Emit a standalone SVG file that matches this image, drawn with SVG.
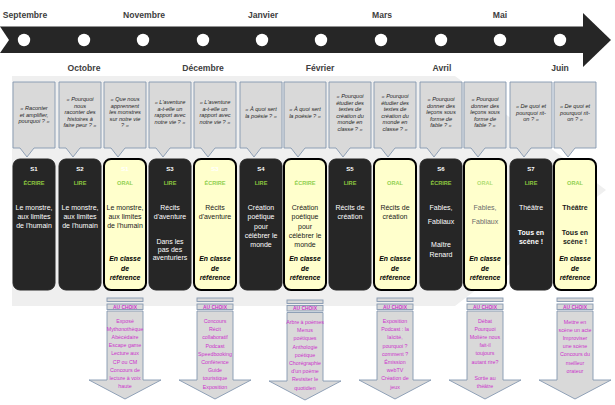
<svg xmlns="http://www.w3.org/2000/svg" width="615" height="405" viewBox="0 0 615 405">
  <style>
    text { font-family: "Liberation Sans", Arial, sans-serif; text-anchor: middle; }
    .month { font-size: 8.6px; font-weight: bold; fill: #404040; }
    .q { font-size: 5.6px; font-style: italic; fill: #262626; }
    .callout { fill: #d9d9d9; stroke: #8497b0; stroke-width: 0.9; }
    .dark { fill: #262626; stroke: #262626; stroke-width: 1; }
    .light { fill: #ffffcc; stroke: #000; stroke-width: 2; }
    .seq { font-size: 6px; font-weight: bold; fill: #fff; }
    .cat { font-size: 5.6px; font-weight: bold; fill: #8cc63f; }
    .catl { font-size: 5.6px; font-weight: bold; fill: #92d050; }
    .w { font-size: 7px; fill: #fff; }
    .k { font-size: 7px; fill: #1a1a1a; }
    .g { font-size: 7px; fill: #6b6b6b; }
    .b { font-weight: bold; }
    .ref { font-size: 6.8px; font-weight: bold; font-style: italic; fill: #000; }
    .arrow { fill: #d9d9d9; stroke: #8497b0; stroke-width: 0.9; }
    .tag { font-size: 4.9px; font-weight: bold; fill: #cc33cc; }
    .opt { font-size: 5.3px; fill: #cc33cc; }
  </style>

  <!-- background panel, shaped as a wide arrow -->
  <polygon points="12,76 455,76 606,190 455,306 12,306" fill="#efefef"/>

  <!-- timeline -->
  <g id="timeline">
    <rect x="0" y="26.5" width="584" height="26.5" fill="#262626"/>
    <polygon points="0,26.5 9,40 0,53" fill="#fff"/>
    <polygon points="583,13 611,40 583,67" fill="#262626"/>
    <g fill="#fff">
      <circle cx="24" cy="40" r="6.2"/><circle cx="84" cy="40" r="6.2"/>
      <circle cx="143" cy="40" r="6.2"/><circle cx="203" cy="40" r="6.2"/>
      <circle cx="262" cy="40" r="6.2"/><circle cx="321" cy="40" r="6.2"/>
      <circle cx="381" cy="40" r="6.2"/><circle cx="441" cy="40" r="6.2"/>
      <circle cx="500" cy="40" r="6.2"/><circle cx="560" cy="40" r="6.2"/>
    </g>
    <text class="month" x="25" y="18">Septembre</text>
    <text class="month" x="144" y="18">Novembre</text>
    <text class="month" x="263" y="18">Janvier</text>
    <text class="month" x="382" y="18">Mars</text>
    <text class="month" x="500" y="18">Mai</text>
    <text class="month" x="84" y="70.5">Octobre</text>
    <text class="month" x="203" y="70.5">Décembre</text>
    <text class="month" x="320" y="70.5">Février</text>
    <text class="month" x="442" y="70.5">Avril</text>
    <text class="month" x="560" y="70.5">Juin</text>
  </g>

  <!-- sequence columns: question callout + session card -->
  <g id="col-01">
    <path class="callout" d="M13 82H55V148H34L27 157L20 148H13Z"/>
    <text class="q"><tspan x="34" y="110">« Raconter</tspan><tspan x="34" dy="6.6">et amplifier,</tspan><tspan x="34" dy="6.6">pourquoi ? »</tspan></text>
    <rect class="dark" x="13" y="159" width="42" height="131" rx="7"/>
    <text class="seq" x="34" y="171">S1</text>
    <text class="cat" x="34" y="185">ÉCRIRE</text>
    <text class="w"><tspan x="34" y="210">Le monstre,</tspan><tspan x="34" dy="9">aux limites</tspan><tspan x="34" dy="9">de l'humain</tspan></text>
  </g>

  <g id="col-02">
    <path class="callout" d="M59 82H101V148H80L73 157L66 148H59Z"/>
    <text class="q"><tspan x="80" y="101">« Pourquoi</tspan><tspan x="80" dy="6.6">nous</tspan><tspan x="80" dy="6.6">raconter des</tspan><tspan x="80" dy="6.6">histoires à</tspan><tspan x="80" dy="6.6">faire peur ? »</tspan></text>
    <rect class="dark" x="59" y="159" width="42" height="131" rx="7"/>
    <text class="seq" x="80" y="171">S2</text>
    <text class="cat" x="80" y="185">LIRE</text>
    <text class="w"><tspan x="80" y="210">Le monstre,</tspan><tspan x="80" dy="9">aux limites</tspan><tspan x="80" dy="9">de l'humain</tspan></text>
  </g>

  <g id="col-03">
    <path class="callout" d="M104 82H146V148H125L118 157L111 148H104Z"/>
    <text class="q"><tspan x="125" y="101">« Que nous</tspan><tspan x="125" dy="6.6">apprennent</tspan><tspan x="125" dy="6.6">les monstres</tspan><tspan x="125" dy="6.6">sur notre vie</tspan><tspan x="125" dy="6.6">? »</tspan></text>
    <rect class="light" x="104" y="159" width="42" height="131" rx="7"/>
    <text class="seq" x="125" y="171">S1</text>
    <text class="catl" x="125" y="185">ORAL</text>
    <text class="k"><tspan x="125" y="210">Le monstre,</tspan><tspan x="125" dy="9">aux limites</tspan><tspan x="125" dy="9">de l'humain</tspan></text>
    <text class="ref"><tspan x="125" y="261">En classe</tspan><tspan x="125" dy="9.5">de</tspan><tspan x="125" dy="9.5">référence</tspan></text>
  </g>

  <g id="col-04">
    <path class="callout" d="M149 82H191V148H170L163 157L156 148H149Z"/>
    <text class="q"><tspan x="170" y="104">« L'aventure</tspan><tspan x="170" dy="6.6">a-t-elle un</tspan><tspan x="170" dy="6.6">rapport avec</tspan><tspan x="170" dy="6.6">notre vie ? »</tspan></text>
    <rect class="dark" x="149" y="159" width="42" height="131" rx="7"/>
    <text class="seq" x="170" y="171">S3</text>
    <text class="cat" x="170" y="185">LIRE</text>
    <text class="w"><tspan x="170" y="210">Récits</tspan><tspan x="170" dy="9">d'aventure</tspan></text>
    <text class="w"><tspan x="170" y="244">Dans les</tspan><tspan x="170" dy="8">pas des</tspan><tspan x="170" dy="8">aventuriers</tspan></text>
  </g>

  <g id="col-05">
    <path class="callout" d="M194 82H236V148H215L208 157L201 148H194Z"/>
    <text class="q"><tspan x="215" y="104">« L'aventure</tspan><tspan x="215" dy="6.6">a-t-elle un</tspan><tspan x="215" dy="6.6">rapport avec</tspan><tspan x="215" dy="6.6">notre vie ? »</tspan></text>
    <rect class="light" x="194" y="159" width="42" height="131" rx="7"/>
    <text class="seq" x="215" y="171">S3</text>
    <text class="catl" x="215" y="185">ÉCRIRE</text>
    <text class="k"><tspan x="215" y="210">Récits</tspan><tspan x="215" dy="9">d'aventure</tspan></text>
    <text class="ref"><tspan x="215" y="261">En classe</tspan><tspan x="215" dy="9.5">de</tspan><tspan x="215" dy="9.5">référence</tspan></text>
  </g>

  <g id="col-06">
    <path class="callout" d="M240 82H282V148H261L254 157L247 148H240Z"/>
    <text class="q"><tspan x="261" y="111">« À quoi sert</tspan><tspan x="261" dy="6.6">la poésie ? »</tspan></text>
    <rect class="dark" x="240" y="159" width="42" height="131" rx="7"/>
    <text class="seq" x="261" y="171">S4</text>
    <text class="cat" x="261" y="185">LIRE</text>
    <text class="w"><tspan x="261" y="210">Création</tspan><tspan x="261" dy="9.3">poétique</tspan><tspan x="261" dy="9.3">pour</tspan><tspan x="261" dy="9.3">célébrer le</tspan><tspan x="261" dy="9.3">monde</tspan></text>
  </g>

  <g id="col-07">
    <path class="callout" d="M284 82H326V148H305L298 157L291 148H284Z"/>
    <text class="q"><tspan x="305" y="111">« À quoi sert</tspan><tspan x="305" dy="6.6">la poésie ? »</tspan></text>
    <rect class="light" x="284" y="159" width="42" height="131" rx="7"/>
    <text class="catl" x="305" y="185">ÉCRIRE</text>
    <text class="k"><tspan x="305" y="210">Création</tspan><tspan x="305" dy="9.3">poétique</tspan><tspan x="305" dy="9.3">pour</tspan><tspan x="305" dy="9.3">célébrer le</tspan><tspan x="305" dy="9.3">monde</tspan></text>
    <text class="ref"><tspan x="305" y="261">En classe</tspan><tspan x="305" dy="9.5">de</tspan><tspan x="305" dy="9.5">référence</tspan></text>
  </g>

  <g id="col-08">
    <path class="callout" d="M329 82H371V148H350L343 157L336 148H329Z"/>
    <text class="q"><tspan x="350" y="98">« Pourquoi</tspan><tspan x="350" dy="6.6">étudier des</tspan><tspan x="350" dy="6.6">textes de</tspan><tspan x="350" dy="6.6">création du</tspan><tspan x="350" dy="6.6">monde en</tspan><tspan x="350" dy="6.6">classe ? »</tspan></text>
    <rect class="dark" x="329" y="159" width="42" height="131" rx="7"/>
    <text class="seq" x="350" y="171">S5</text>
    <text class="cat" x="350" y="185">LIRE</text>
    <text class="w"><tspan x="350" y="210">Récits de</tspan><tspan x="350" dy="9">création</tspan></text>
  </g>

  <g id="col-09">
    <path class="callout" d="M374 82H416V148H395L388 157L381 148H374Z"/>
    <text class="q"><tspan x="395" y="98">« Pourquoi</tspan><tspan x="395" dy="6.6">étudier des</tspan><tspan x="395" dy="6.6">textes de</tspan><tspan x="395" dy="6.6">création du</tspan><tspan x="395" dy="6.6">monde en</tspan><tspan x="395" dy="6.6">classe ? »</tspan></text>
    <rect class="light" x="374" y="159" width="42" height="131" rx="7"/>
    <text class="catl" x="395" y="185">ORAL</text>
    <text class="k"><tspan x="395" y="210">Récits de</tspan><tspan x="395" dy="9">création</tspan></text>
    <text class="ref"><tspan x="395" y="261">En classe</tspan><tspan x="395" dy="9.5">de</tspan><tspan x="395" dy="9.5">référence</tspan></text>
  </g>

  <g id="col-10">
    <path class="callout" d="M420 82H462V148H441L434 157L427 148H420Z"/>
    <text class="q"><tspan x="441" y="101">« Pourquoi</tspan><tspan x="441" dy="6.6">donner des</tspan><tspan x="441" dy="6.6">leçons sous</tspan><tspan x="441" dy="6.6">forme de</tspan><tspan x="441" dy="6.6">fable ? »</tspan></text>
    <rect class="dark" x="420" y="159" width="42" height="131" rx="7"/>
    <text class="seq" x="441" y="171">S6</text>
    <text class="cat" x="441" y="185">ÉCRIRE</text>
    <text class="w"><tspan x="441" y="210">Fables,</tspan><tspan x="441" dy="14">Fabliaux</tspan></text>
    <text class="w"><tspan x="441" y="247">Maître</tspan><tspan x="441" dy="10">Renard</tspan></text>
  </g>

  <g id="col-11">
    <path class="callout" d="M464 82H506V148H485L478 157L471 148H464Z"/>
    <text class="q"><tspan x="485" y="101">« Pourquoi</tspan><tspan x="485" dy="6.6">donner des</tspan><tspan x="485" dy="6.6">leçons sous</tspan><tspan x="485" dy="6.6">forme de</tspan><tspan x="485" dy="6.6">fable ? »</tspan></text>
    <rect class="light" x="464" y="159" width="42" height="131" rx="7"/>
    <text class="catl" x="485" y="185" fill-opacity="0.75">ORAL</text>
    <text class="g"><tspan x="485" y="210">Fables,</tspan><tspan x="485" dy="14">Fabliaux</tspan></text>
    <text class="ref"><tspan x="485" y="261">En classe</tspan><tspan x="485" dy="9.5">de</tspan><tspan x="485" dy="9.5">référence</tspan></text>
  </g>

  <g id="col-12">
    <path class="callout" d="M510 82H552V148H531L524 157L517 148H510Z"/>
    <text class="q"><tspan x="531" y="108">« De quoi et</tspan><tspan x="531" dy="6.6">pourquoi rit-</tspan><tspan x="531" dy="6.6">on ? »</tspan></text>
    <rect class="dark" x="510" y="159" width="42" height="131" rx="7"/>
    <text class="seq" x="531" y="171">S7</text>
    <text class="cat" x="531" y="185">LIRE</text>
    <text class="w" x="531" y="210">Théâtre</text>
    <text class="w b"><tspan x="531" y="235">Tous en</tspan><tspan x="531" dy="8.5">scène !</tspan></text>
  </g>

  <g id="col-13">
    <path class="callout" d="M554 82H596V148H575L568 157L561 148H554Z"/>
    <text class="q"><tspan x="575" y="108">« De quoi et</tspan><tspan x="575" dy="6.6">pourquoi rit-</tspan><tspan x="575" dy="6.6">on ? »</tspan></text>
    <rect class="light" x="554" y="159" width="42" height="131" rx="7"/>
    <text class="catl" x="575" y="185">ORAL</text>
    <text class="k b" x="575" y="210">Théâtre</text>
    <text class="k b"><tspan x="575" y="235">Tous en</tspan><tspan x="575" dy="8.5">scène !</tspan></text>
    <text class="ref"><tspan x="575" y="261">En classe</tspan><tspan x="575" dy="9.5">de</tspan><tspan x="575" dy="9.5">référence</tspan></text>
  </g>

  <!-- "au choix" block arrows below each class-based session -->
  <g id="choice-arrows">
    <g id="choice-03">
      <rect class="arrow" x="107" y="298" width="36" height="3.5"/>
      <rect class="arrow" x="107" y="304" width="36" height="5.5"/>
      <text class="tag" x="125" y="308.8">AU CHOIX</text>
      <path class="arrow" d="M107 311H143V380H161L125 399L89 380H107Z"/>
      <text class="opt"><tspan x="125" y="322.5">Exposé</tspan><tspan x="125" dy="8.2">Mythonothèque</tspan><tspan x="125" dy="8.2">Abécédaire</tspan><tspan x="125" dy="8.2">Escape game</tspan><tspan x="125" dy="8.2">Lecture aux</tspan><tspan x="125" dy="8.2">CP ou CM</tspan><tspan x="125" dy="8.2">Concours de</tspan><tspan x="125" dy="8.2">lecture à voix</tspan><tspan x="125" dy="8.2">haute</tspan></text>
    </g>
    <g id="choice-05">
      <rect class="arrow" x="197" y="298" width="36" height="3.5"/>
      <rect class="arrow" x="197" y="304" width="36" height="5.5"/>
      <text class="tag" x="215" y="308.8">AU CHOIX</text>
      <path class="arrow" d="M197 311H233V380H251L215 399L179 380H197Z"/>
      <text class="opt"><tspan x="215" y="323">Concours</tspan><tspan x="215" dy="8.2">Récit</tspan><tspan x="215" dy="8.2">collaboratif</tspan><tspan x="215" dy="8.2">Podcast</tspan><tspan x="215" dy="8.2">Speedbooking</tspan><tspan x="215" dy="8.2">Conférence</tspan><tspan x="215" dy="8.2">Guide</tspan><tspan x="215" dy="8.2">touristique</tspan><tspan x="215" dy="8.2">Exposition</tspan></text>
    </g>
    <g id="choice-07">
      <rect class="arrow" x="287" y="300" width="36" height="3.5"/>
      <rect class="arrow" x="287" y="305.5" width="36" height="5.5"/>
      <text class="tag" x="305" y="310.3">AU CHOIX</text>
      <path class="arrow" d="M287 312.5H323V381H341L305 400L269 381H287Z"/>
      <text class="opt"><tspan x="305" y="324">Arbre à poèmes</tspan><tspan x="305" dy="8.2">Menus</tspan><tspan x="305" dy="8.2">poétiques</tspan><tspan x="305" dy="8.2">Anthologie</tspan><tspan x="305" dy="8.2">poétique</tspan><tspan x="305" dy="8.2">Chorégraphie</tspan><tspan x="305" dy="8.2">d'un poème</tspan><tspan x="305" dy="8.2">Revisiter le</tspan><tspan x="305" dy="8.2">quotidien</tspan></text>
    </g>
    <g id="choice-09">
      <rect class="arrow" x="377" y="298" width="36" height="3.5"/>
      <rect class="arrow" x="377" y="304" width="36" height="5.5"/>
      <text class="tag" x="395" y="308.8">AU CHOIX</text>
      <path class="arrow" d="M377 311H413V380H431L395 399L359 380H377Z"/>
      <text class="opt"><tspan x="395" y="323">Exposition</tspan><tspan x="395" dy="8.2">Podcast : la</tspan><tspan x="395" dy="8.2">laïcité,</tspan><tspan x="395" dy="8.2">pourquoi ?</tspan><tspan x="395" dy="8.2">comment ?</tspan><tspan x="395" dy="8.2">Émission</tspan><tspan x="395" dy="8.2">webTV</tspan><tspan x="395" dy="8.2">Création de</tspan><tspan x="395" dy="8.2">jeux</tspan></text>
    </g>
    <g id="choice-11">
      <rect class="arrow" x="467" y="298" width="36" height="3.5"/>
      <rect class="arrow" x="467" y="304" width="36" height="5.5"/>
      <text class="tag" x="485" y="308.8">AU CHOIX</text>
      <path class="arrow" d="M467 311H503V380H521L485 399L449 380H467Z"/>
      <text class="opt"><tspan x="485" y="322.5">Débat</tspan><tspan x="485" dy="8.2">Pourquoi</tspan><tspan x="485" dy="8.2">Molière nous</tspan><tspan x="485" dy="8.2">fait-il</tspan><tspan x="485" dy="8.2">toujours</tspan><tspan x="485" dy="8.2">autant rire?</tspan><tspan x="485" dy="16.4">Sortie au</tspan><tspan x="485" dy="8.2">théâtre</tspan></text>
    </g>
    <g id="choice-13">
      <rect class="arrow" x="557" y="298" width="36" height="3.5"/>
      <rect class="arrow" x="557" y="304" width="36" height="5.5"/>
      <text class="tag" x="575" y="308.8">AU CHOIX</text>
      <path class="arrow" d="M557 311H593V380H611L575 399L539 380H557Z"/>
      <text class="opt"><tspan x="575" y="324">Mettre en</tspan><tspan x="575" dy="8.1">scène un acte</tspan><tspan x="575" dy="8.1">Improviser</tspan><tspan x="575" dy="8.1">une scène</tspan><tspan x="575" dy="8.1">Concours du</tspan><tspan x="575" dy="8.1">meilleur</tspan><tspan x="575" dy="8.1">orateur</tspan></text>
    </g>
  </g>
</svg>
